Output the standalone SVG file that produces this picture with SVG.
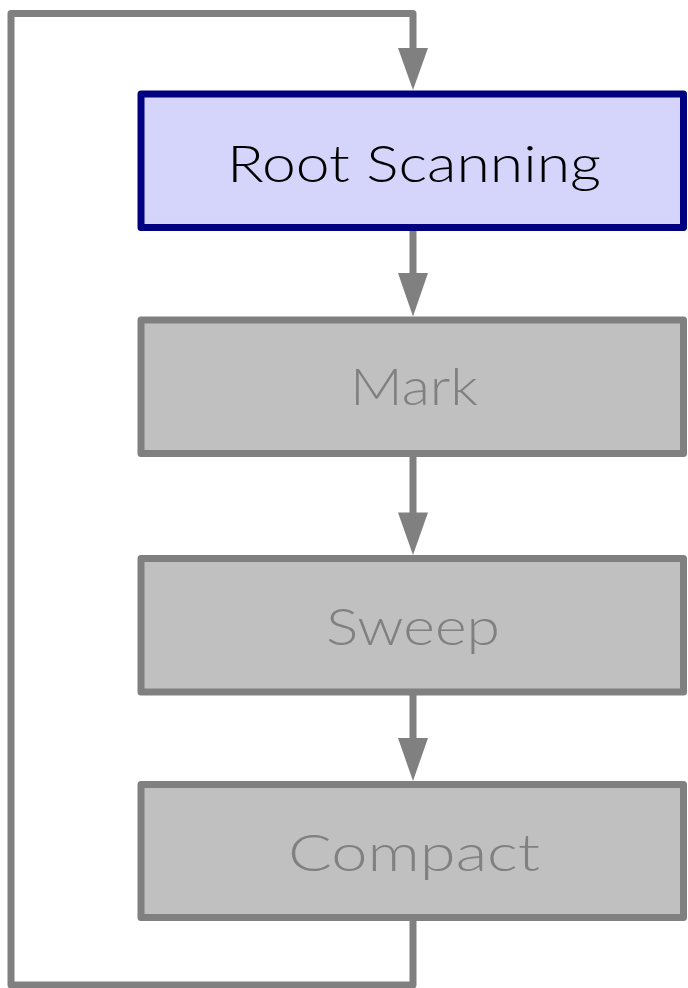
<svg xmlns="http://www.w3.org/2000/svg" width="688" height="988" viewBox="0 0 688 988">
  <style>
    .box-active { fill: #d5d5fc; stroke: #000080; stroke-width: 7; stroke-linejoin: round; }
    .box-idle { fill: #c0c0c0; stroke: #808080; stroke-width: 7; stroke-linejoin: round; }
    .label { font-family: Lato, "Liberation Sans", sans-serif; font-size: 52px; font-weight: 300; text-anchor: middle; }
    .label-active { fill: #000000; }
    .label-idle { fill: #808080; }
    .edge { fill: none; stroke: #808080; stroke-width: 7; stroke-linejoin: round; }
    .head { fill: #808080; }
  </style>

  <!-- connectors: shafts end at the arrowhead base, heads touch the box border -->
  <g id="connectors">
    <!-- loop back from Compact to Root Scanning -->
    <path class="edge" d="M413,917 V985 H11 V13.5 H413 V50"/>
    <polygon class="head" points="398,48 428,48 413,90"/>
    <!-- Root Scanning -> Mark -->
    <path class="edge" d="M413,227 V275"/>
    <polygon class="head" points="398,273 428,273 413,316.5"/>
    <!-- Mark -> Sweep -->
    <path class="edge" d="M413,453 V515"/>
    <polygon class="head" points="398,512.5 428,512.5 413,555"/>
    <!-- Sweep -> Compact -->
    <path class="edge" d="M413,692 V740"/>
    <polygon class="head" points="398,738 428,738 413,781"/>
  </g>

  <g id="root-scanning">
    <rect class="box-active" x="141" y="94" width="542.5" height="133.5"/>
    <text class="label label-active" x="414" y="182" textLength="374" lengthAdjust="spacingAndGlyphs">Root Scanning</text>
  </g>

  <g id="mark">
    <rect class="box-idle" x="141" y="320" width="542.5" height="133.5"/>
    <text class="label label-idle" x="414" y="405" textLength="128" lengthAdjust="spacingAndGlyphs">Mark</text>
  </g>

  <g id="sweep">
    <rect class="box-idle" x="141" y="558.5" width="542.5" height="133.5"/>
    <text class="label label-idle" x="413" y="645" textLength="174" lengthAdjust="spacingAndGlyphs">Sweep</text>
  </g>

  <g id="compact">
    <rect class="box-idle" x="141" y="784.5" width="542.5" height="133"/>
    <text class="label label-idle" x="414" y="871" textLength="252" lengthAdjust="spacingAndGlyphs">Compact</text>
  </g>
</svg>
